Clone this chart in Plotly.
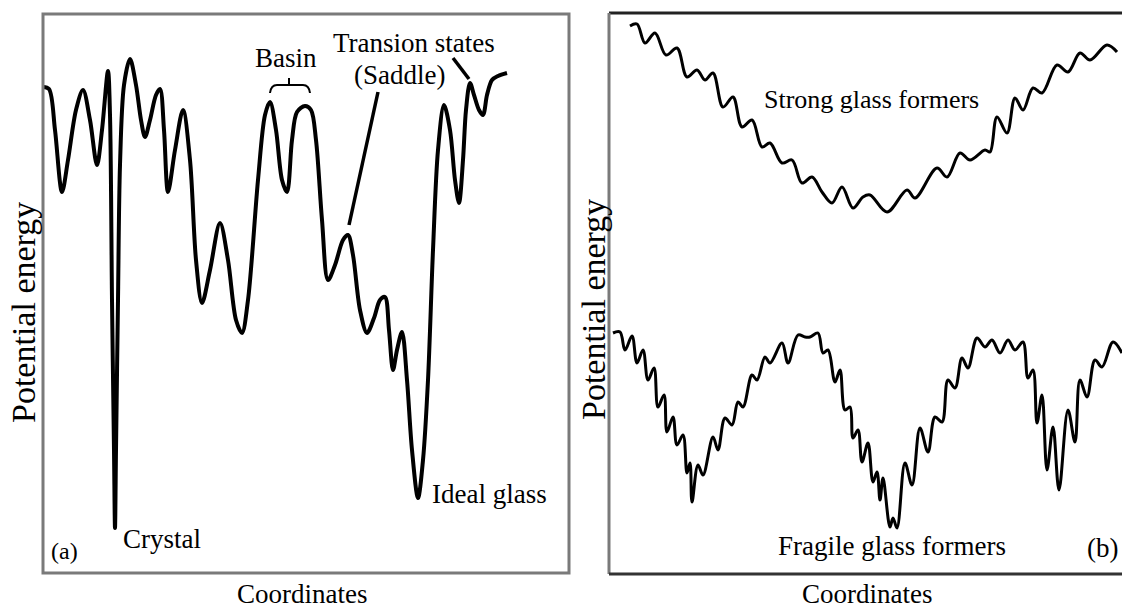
import plotly.graph_objects as go

W, H = 1122, 612

# ---- Panel (a): rugged landscape (coordinate, potential energy) ----
a_coord = [43, 49, 55, 62, 68, 76, 83, 90, 97, 102, 108, 110, 112, 114, 115, 116, 118, 120, 124, 130,
           136, 141, 145, 150, 156, 160, 164, 168, 175, 183, 190, 196, 202, 210, 220, 228, 236, 242, 248,
           258, 265, 270, 276, 282, 287, 292, 297, 305, 311, 316, 322, 328, 335, 343, 348, 353, 360, 367,
           374, 380, 385, 389, 393, 397, 402, 407, 412, 418, 423, 428, 433, 438, 444, 450, 455, 459, 463,
           466, 470, 474, 479, 483, 487, 492, 498, 507]
a_energy = [525, 523, 482, 420, 452, 502, 522, 492, 447, 482, 541, 497, 312, 162, 84, 162, 312, 447, 527, 553,
            527, 492, 475, 492, 517, 523, 482, 420, 462, 502, 452, 352, 309, 342, 389, 352, 292, 279, 312,
            432, 497, 510, 482, 432, 420, 472, 500, 506, 502, 472, 392, 332, 347, 372, 377, 357, 302, 279,
            294, 312, 315, 282, 242, 262, 280, 232, 162, 114, 152, 232, 362, 462, 507, 482, 432, 409, 452,
            502, 529, 517, 502, 497, 517, 532, 536, 539]

# ---- Panel (b): strong glass formers ----
s_coord = [630, 637, 645, 655, 666, 677, 687, 697, 705, 713, 723, 733, 742, 752, 762, 770, 782, 792, 802,
           812, 822, 832, 842, 853, 863, 870, 887, 907, 915, 937, 947, 960, 970, 985, 990, 997, 1007, 1015,
           1023, 1033, 1042, 1057, 1068, 1080, 1090, 1107, 1117]
s_energy = [586, 588, 569, 579, 557, 564, 535, 542, 532, 539, 505, 515, 485, 492, 465, 469, 449, 452, 429,
            435, 420, 409, 425, 404, 415, 417, 400, 422, 414, 444, 435, 459, 452, 462, 460, 495, 479, 514,
            502, 524, 519, 547, 540, 559, 552, 567, 560]

# ---- Panel (b): fragile glass formers ----
f_coord = [613, 620, 625, 632, 637, 643, 648, 654, 658, 664, 667, 673, 677, 683, 687, 690, 692, 698, 703,
           713, 718, 725, 732, 738, 743, 752, 757, 765, 770, 782, 788, 798, 805, 810, 818, 823, 828, 835,
           840, 845, 850, 853, 858, 862, 868, 873, 877, 880, 883, 890, 893, 897, 905, 912, 920, 928, 935,
           942, 948, 955, 962, 968, 977, 985, 992, 1000, 1008, 1015, 1023, 1028, 1033, 1037, 1042, 1047,
           1053, 1059, 1068, 1075, 1080, 1087, 1095, 1102, 1113, 1122]
f_energy = [279, 280, 262, 276, 249, 262, 232, 244, 205, 217, 180, 195, 167, 177, 139, 149, 110, 147, 137,
            175, 162, 194, 187, 210, 205, 237, 232, 255, 249, 269, 249, 277, 275, 275, 279, 259, 262, 230,
            242, 202, 205, 174, 182, 150, 169, 130, 140, 112, 134, 85, 94, 84, 149, 127, 184, 160, 195,
            190, 232, 224, 254, 244, 274, 265, 272, 259, 272, 262, 270, 234, 242, 189, 217, 142,
            185, 122, 202, 170, 232, 215, 252, 245, 270, 259]

FONT = "Liberation Serif"


def px(x):
    return x / W


def py(y):
    return 1 - y / H


fig = go.Figure()
fig.add_trace(go.Scatter(x=a_coord, y=a_energy, mode="lines", xaxis="x", yaxis="y",
                         line=dict(color="black", width=4, shape="spline", smoothing=0.9),
                         showlegend=False, hoverinfo="skip"))
fig.add_trace(go.Scatter(x=s_coord, y=s_energy, mode="lines", xaxis="x2", yaxis="y2",
                         line=dict(color="black", width=3, shape="spline", smoothing=1.0),
                         showlegend=False, hoverinfo="skip"))
fig.add_trace(go.Scatter(x=f_coord, y=f_energy, mode="lines", xaxis="x2", yaxis="y2",
                         line=dict(color="black", width=3, shape="spline", smoothing=1.0),
                         showlegend=False, hoverinfo="skip"))

ax_common = dict(visible=False, fixedrange=True)
fig.update_layout(
    width=W, height=H,
    margin=dict(l=0, r=0, t=0, b=0),
    paper_bgcolor="white", plot_bgcolor="rgba(0,0,0,0)",
    xaxis=dict(domain=[px(43), px(569)], range=[43, 569], anchor="y", **ax_common),
    yaxis=dict(domain=[py(573), py(14)], range=[612 - 573, 612 - 14], anchor="x", **ax_common),
    xaxis2=dict(domain=[px(609), 1.0], range=[609, 1122], anchor="y2", **ax_common),
    yaxis2=dict(domain=[py(574), py(13)], range=[612 - 574, 612 - 13], anchor="x2", **ax_common),
)

shapes = [
    # panel (a) frame
    dict(type="rect", xref="paper", yref="paper", x0=px(43), x1=px(569), y0=py(573), y1=py(14),
         line=dict(color="#7a7a7a", width=3)),
    # panel (b) frame (open at right)
    dict(type="line", xref="paper", yref="paper", x0=px(609), x1=1.0, y0=py(13), y1=py(13),
         line=dict(color="#222222", width=3)),
    dict(type="line", xref="paper", yref="paper", x0=px(609), x1=px(609), y0=py(13), y1=py(574),
         line=dict(color="#7a7a7a", width=3)),
    dict(type="line", xref="paper", yref="paper", x0=px(609), x1=1.0, y0=py(574), y1=py(574),
         line=dict(color="#333333", width=3)),
    # pointer lines
    dict(type="line", xref="x", yref="y", x0=378, y0=520, x1=349, y1=387,
         line=dict(color="black", width=3.5)),
    dict(type="line", xref="x", yref="y", x0=453, y0=554, x1=469, y1=533,
         line=dict(color="black", width=3.5)),
    # basin bracket
    dict(type="path", xref="x", yref="y",
         path="M 270 519 Q 271 527 277 527 L 303 527 Q 309 527 310 519 M 289 527 L 289 534",
         line=dict(color="black", width=2)),
]
fig.update_layout(shapes=shapes)


def txt(text, x, y, size=27, xanchor="center", angle=0):
    return dict(text=text, x=px(x), y=py(y), xref="paper", yref="paper", showarrow=False,
                xanchor=xanchor, yanchor="middle", textangle=angle,
                font=dict(family=FONT, size=size, color="black"))


annotations = [
    txt("Basin", 286, 58),
    txt("Transion states", 414, 43),
    txt("(Saddle)", 399, 75),
    txt("Crystal", 121, 539, xanchor="left"),
    txt("Ideal glass", 430, 494, xanchor="left"),
    txt("(a)", 49, 551, size=24, xanchor="left"),
    txt("Coordinates", 302, 594),
    txt("Potential energy", 23, 313, size=34, angle=-90),
    txt("Strong glass formers", 871, 100, size=26),
    txt("Fragile glass formers", 892, 546),
    txt("(b)", 1120, 548, xanchor="right"),
    txt("Coordinates", 867, 594),
    txt("Potential energy", 593, 310, size=34, angle=-90),
]
fig.update_layout(annotations=annotations)

fig.write_html("out.html")
